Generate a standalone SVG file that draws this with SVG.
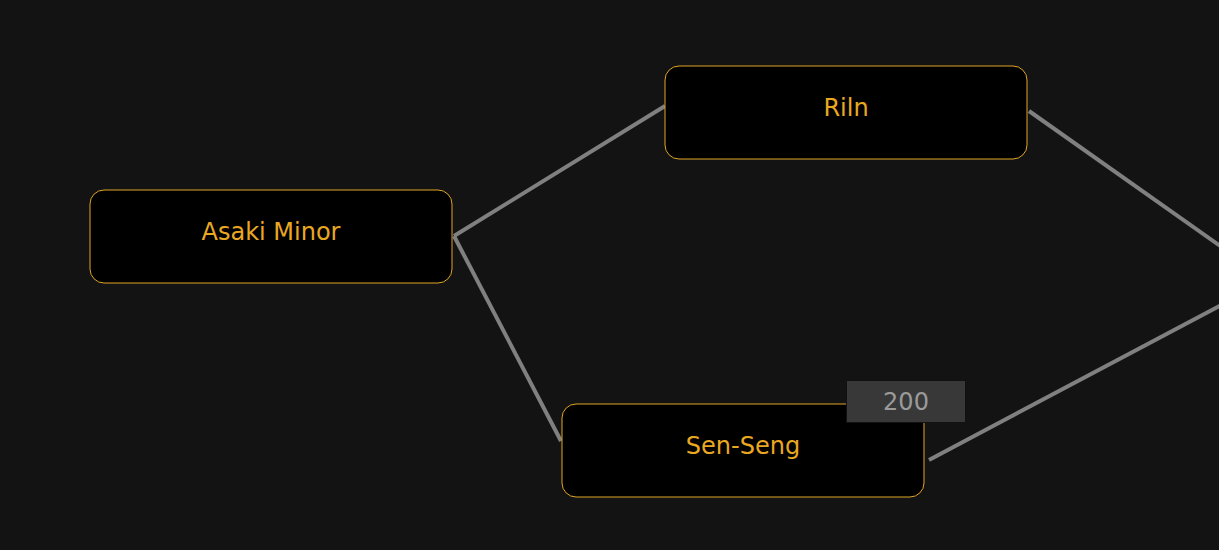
<svg xmlns="http://www.w3.org/2000/svg" width="1219" height="550" viewBox="0 0 1219 550">
<style>
.node rect{fill:#000;stroke:#e0a526;stroke-width:1}
.node text{fill:#eaa822;font-family:"DejaVu Sans",sans-serif;font-size:24px;text-anchor:middle;dominant-baseline:central}
.edge{stroke:#808080;stroke-width:4;fill:none}
.lbl rect{fill:#383838;stroke:#111;stroke-width:1}
.lbl text{fill:#9a9a9a;font-family:"DejaVu Sans",sans-serif;font-size:24px;text-anchor:middle;dominant-baseline:central}
</style>
<rect width="1219" height="550" fill="#131313"/>
<g id="connectors">
<line class="edge" x1="454" y1="236" x2="665" y2="106"/>
<line class="edge" x1="454" y1="236" x2="561" y2="441"/>
<line class="edge" x1="1029" y1="111" x2="1240" y2="260"/>
<line class="edge" x1="929" y1="460" x2="1240" y2="295"/>
</g>
<g id="node-asaki" class="node">
<rect x="90" y="190" width="362" height="93" rx="14"/>
<text x="271" y="232">Asaki Minor</text>
</g>
<g id="node-riln" class="node">
<rect x="665" y="66" width="362" height="93" rx="14"/>
<text x="846" y="108">Riln</text>
</g>
<g id="node-senseng" class="node">
<rect x="562" y="404" width="362" height="93" rx="14"/>
<text x="743" y="446">Sen-Seng</text>
</g>
<g id="label-200" class="lbl">
<rect x="846.5" y="380.5" width="119" height="42"/>
<text x="906" y="402">200</text>
</g>
</svg>
